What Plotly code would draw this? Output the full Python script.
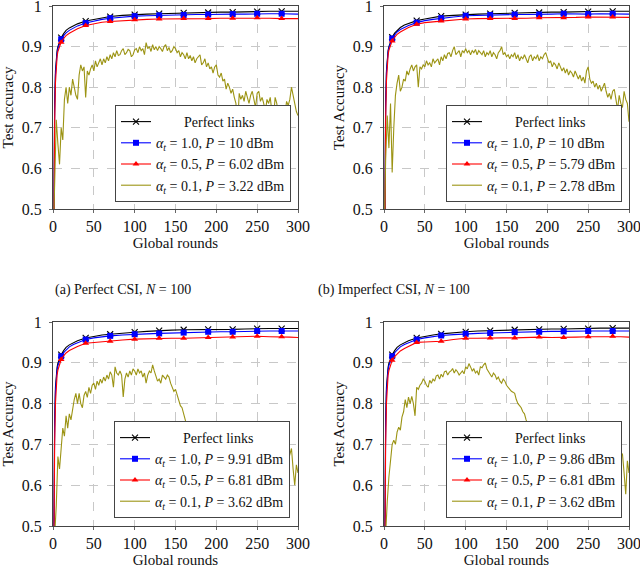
import plotly.graph_objects as go

# ---------------- data ----------------
ROUNDS_SMOOTH = [0, 1, 2, 3, 4, 5, 6, 8, 10, 13, 16, 20, 25, 30, 40, 50, 60, 70, 85, 100,
                 115, 130, 145, 160, 175, 190, 205, 220, 235, 250, 265, 280, 290, 300]
MARKER_ROUNDS = [10, 40, 70, 100, 130, 160, 190, 220, 250, 280]
ROUNDS_GOLD = list(range(0, 301, 2))

# Panel (a)
BLACK_A = [0.10, 0.55, 0.76, 0.84, 0.875, 0.89, 0.90, 0.913, 0.922, 0.932, 0.94, 0.946, 0.952, 0.956,
           0.963, 0.967, 0.971, 0.974, 0.977, 0.979, 0.98, 0.981, 0.982, 0.983, 0.984, 0.984, 0.985,
           0.985, 0.986, 0.986, 0.987, 0.987, 0.987, 0.987]
BLUE_A = [0.10, 0.52, 0.74, 0.83, 0.866, 0.883, 0.895, 0.908, 0.918, 0.927, 0.934, 0.94, 0.946, 0.951,
          0.958, 0.963, 0.967, 0.97, 0.973, 0.975, 0.976, 0.977, 0.978, 0.978, 0.979, 0.979, 0.98,
          0.98, 0.98, 0.981, 0.981, 0.981, 0.98, 0.98]
RED_A = [0.10, 0.48, 0.71, 0.81, 0.855, 0.875, 0.888, 0.902, 0.911, 0.92, 0.927, 0.933, 0.939, 0.944,
         0.952, 0.956, 0.96, 0.962, 0.964, 0.966, 0.967, 0.968, 0.968, 0.969, 0.968, 0.969, 0.97,
         0.97, 0.97, 0.971, 0.97, 0.969, 0.969, 0.969]
GOLD_A = [0.40, 0.60, 0.72, 0.66, 0.61, 0.70, 0.67, 0.77, 0.80, 0.76, 0.80, 0.78, 0.82, 0.80, 0.78,
          0.77, 0.83, 0.855, 0.84, 0.85, 0.775, 0.84, 0.83, 0.845, 0.855, 0.84, 0.865, 0.85, 0.86,
          0.87, 0.855, 0.87, 0.86, 0.875, 0.865, 0.88, 0.87, 0.885, 0.875, 0.89, 0.878, 0.88, 0.89,
          0.895, 0.88, 0.885, 0.893, 0.89, 0.875, 0.88, 0.892, 0.895, 0.885, 0.9, 0.89, 0.895, 0.88,
          0.91, 0.895, 0.9, 0.888, 0.905, 0.892, 0.9, 0.89, 0.9, 0.895, 0.888, 0.9, 0.905, 0.89,
          0.898, 0.885, 0.89, 0.9, 0.895, 0.885, 0.89, 0.875, 0.885, 0.88, 0.87, 0.885, 0.87, 0.878,
          0.865, 0.875, 0.86, 0.87, 0.875, 0.88, 0.855, 0.86, 0.87, 0.85, 0.86, 0.845, 0.85, 0.835,
          0.85, 0.855, 0.83, 0.825, 0.835, 0.815, 0.82, 0.795, 0.81, 0.8, 0.785, 0.795, 0.775, 0.76,
          0.70, 0.785, 0.77, 0.78, 0.765, 0.79, 0.775, 0.76, 0.78, 0.79, 0.77, 0.75, 0.785, 0.79,
          0.765, 0.775, 0.76, 0.74, 0.77, 0.76, 0.775, 0.74, 0.725, 0.775, 0.76, 0.73, 0.745, 0.715,
          0.70, 0.74, 0.765, 0.755, 0.77, 0.80, 0.775, 0.76, 0.74, 0.73]

# Panel (b)
BLACK_B = [0.10, 0.55, 0.76, 0.84, 0.875, 0.89, 0.90, 0.913, 0.923, 0.933, 0.94, 0.947, 0.953, 0.957,
           0.964, 0.968, 0.972, 0.975, 0.977, 0.979, 0.98, 0.981, 0.982, 0.983, 0.984, 0.984, 0.985,
           0.985, 0.986, 0.986, 0.987, 0.987, 0.987, 0.987]
BLUE_B = [0.10, 0.53, 0.75, 0.835, 0.87, 0.886, 0.897, 0.91, 0.92, 0.929, 0.936, 0.942, 0.948, 0.952,
          0.959, 0.964, 0.967, 0.97, 0.973, 0.976, 0.977, 0.978, 0.979, 0.979, 0.979, 0.979, 0.98,
          0.981, 0.98, 0.98, 0.981, 0.981, 0.98, 0.98]
RED_B = [0.10, 0.49, 0.72, 0.815, 0.858, 0.878, 0.891, 0.905, 0.914, 0.923, 0.93, 0.936, 0.942, 0.947,
         0.955, 0.959, 0.961, 0.963, 0.966, 0.968, 0.969, 0.969, 0.969, 0.969, 0.97, 0.971, 0.971,
         0.971, 0.972, 0.973, 0.973, 0.973, 0.972, 0.972]
GOLD_B = [0.40, 0.62, 0.73, 0.65, 0.76, 0.59, 0.70, 0.78, 0.81, 0.83, 0.79, 0.80, 0.82, 0.815, 0.84,
          0.83, 0.845, 0.855, 0.84, 0.85, 0.855, 0.80, 0.85, 0.845, 0.855, 0.85, 0.865, 0.855, 0.86,
          0.85, 0.87, 0.86, 0.865, 0.87, 0.855, 0.875, 0.865, 0.88, 0.87, 0.883, 0.885, 0.875, 0.89,
          0.9, 0.88, 0.885, 0.89, 0.875, 0.89, 0.885, 0.895, 0.885, 0.89, 0.88, 0.89, 0.885, 0.893,
          0.88, 0.89, 0.885, 0.88, 0.89, 0.875, 0.885, 0.88, 0.89, 0.875, 0.885, 0.88, 0.87, 0.885,
          0.89, 0.9, 0.88, 0.885, 0.875, 0.88, 0.87, 0.88, 0.875, 0.885, 0.87, 0.88, 0.865, 0.875,
          0.87, 0.88, 0.87, 0.86, 0.875, 0.88, 0.865, 0.875, 0.87, 0.88, 0.865, 0.875, 0.87, 0.88,
          0.885, 0.875, 0.86, 0.865, 0.85, 0.86, 0.855, 0.845, 0.86, 0.85, 0.84, 0.848, 0.835, 0.845,
          0.83, 0.84, 0.835, 0.825, 0.84, 0.83, 0.82, 0.83, 0.815, 0.825, 0.81, 0.84, 0.85, 0.82,
          0.81, 0.815, 0.8, 0.81, 0.795, 0.805, 0.79, 0.8, 0.81, 0.79, 0.775, 0.785, 0.77, 0.79,
          0.795, 0.77, 0.745, 0.78, 0.76, 0.75, 0.79, 0.77, 0.76, 0.715]

# Panel (c)
BLACK_C = [0.10, 0.55, 0.76, 0.84, 0.874, 0.889, 0.899, 0.912, 0.92, 0.93, 0.938, 0.944, 0.95, 0.954,
           0.961, 0.965, 0.968, 0.97, 0.973, 0.975, 0.977, 0.979, 0.98, 0.981, 0.981, 0.982, 0.982,
           0.982, 0.983, 0.984, 0.984, 0.984, 0.984, 0.984]
BLUE_C = [0.10, 0.52, 0.74, 0.83, 0.865, 0.882, 0.893, 0.906, 0.916, 0.925, 0.932, 0.939, 0.945, 0.949,
          0.957, 0.961, 0.964, 0.966, 0.968, 0.97, 0.971, 0.972, 0.973, 0.974, 0.975, 0.976, 0.976,
          0.976, 0.977, 0.978, 0.978, 0.978, 0.978, 0.978]
RED_C = [0.10, 0.47, 0.70, 0.80, 0.85, 0.87, 0.882, 0.898, 0.908, 0.917, 0.924, 0.93, 0.936, 0.94,
         0.948, 0.95, 0.952, 0.953, 0.956, 0.958, 0.959, 0.96, 0.96, 0.96, 0.961, 0.962, 0.962,
         0.963, 0.964, 0.965, 0.964, 0.964, 0.963, 0.962]
GOLD_C = [0.40, 0.48, 0.55, 0.67, 0.64, 0.69, 0.74, 0.72, 0.77, 0.74, 0.775, 0.76, 0.79, 0.81, 0.825,
          0.80, 0.825, 0.80, 0.79, 0.82, 0.83, 0.815, 0.84, 0.825, 0.845, 0.85, 0.835, 0.855, 0.845,
          0.86, 0.85, 0.865, 0.855, 0.87, 0.86, 0.878, 0.87, 0.84, 0.89, 0.875, 0.87, 0.88, 0.87,
          0.816, 0.86, 0.875, 0.865, 0.88, 0.87, 0.885, 0.88, 0.87, 0.885, 0.875, 0.88, 0.865, 0.875,
          0.85, 0.87, 0.88, 0.875, 0.895, 0.88, 0.865, 0.855, 0.86, 0.85, 0.87, 0.865, 0.86, 0.87,
          0.865, 0.85, 0.84, 0.83, 0.835, 0.82, 0.81, 0.795, 0.79, 0.775, 0.76, 0.745, 0.72, 0.735,
          0.69, 0.725, 0.71, 0.70, 0.74, 0.72, 0.69, 0.725, 0.70, 0.71, 0.68, 0.66, 0.67, 0.65,
          0.665, 0.67, 0.655, 0.68, 0.69, 0.70, 0.685, 0.70, 0.68, 0.69, 0.665, 0.68, 0.695, 0.71,
          0.69, 0.675, 0.695, 0.68, 0.70, 0.685, 0.71, 0.725, 0.69, 0.70, 0.68, 0.715, 0.71, 0.695,
          0.738, 0.70, 0.715, 0.72, 0.69, 0.71, 0.68, 0.70, 0.715, 0.695, 0.70, 0.68, 0.71, 0.713,
          0.69, 0.70, 0.68, 0.66, 0.675, 0.69, 0.64, 0.60, 0.65, 0.63]

# Panel (d)
BLACK_D = [0.10, 0.55, 0.76, 0.84, 0.874, 0.889, 0.899, 0.912, 0.92, 0.93, 0.938, 0.944, 0.95, 0.954,
           0.961, 0.965, 0.968, 0.971, 0.974, 0.976, 0.978, 0.979, 0.98, 0.981, 0.982, 0.982, 0.983,
           0.983, 0.984, 0.984, 0.985, 0.985, 0.985, 0.985]
BLUE_D = [0.10, 0.52, 0.74, 0.83, 0.865, 0.882, 0.893, 0.906, 0.916, 0.925, 0.932, 0.939, 0.945, 0.949,
          0.957, 0.961, 0.964, 0.967, 0.969, 0.971, 0.972, 0.973, 0.974, 0.975, 0.976, 0.976, 0.977,
          0.977, 0.978, 0.978, 0.978, 0.978, 0.978, 0.978]
RED_D = [0.10, 0.47, 0.70, 0.80, 0.85, 0.869, 0.881, 0.896, 0.906, 0.915, 0.922, 0.929, 0.935, 0.94,
         0.95, 0.951, 0.952, 0.953, 0.957, 0.96, 0.96, 0.961, 0.961, 0.961, 0.962, 0.963, 0.962,
         0.962, 0.963, 0.964, 0.964, 0.965, 0.964, 0.963]
GOLD_D = [0.40, 0.50, 0.56, 0.62, 0.66, 0.70, 0.71, 0.70, 0.73, 0.742, 0.735, 0.767, 0.78, 0.81, 0.79,
          0.816, 0.80, 0.818, 0.80, 0.77, 0.84, 0.835, 0.845, 0.85, 0.86, 0.855, 0.845, 0.84, 0.857,
          0.85, 0.86, 0.855, 0.868, 0.87, 0.86, 0.872, 0.865, 0.878, 0.88, 0.87, 0.877, 0.88, 0.886,
          0.875, 0.883, 0.878, 0.87, 0.874, 0.88, 0.873, 0.89, 0.885, 0.898, 0.89, 0.88, 0.885, 0.875,
          0.88, 0.87, 0.89, 0.888, 0.895, 0.9, 0.885, 0.878, 0.87, 0.865, 0.875, 0.87, 0.86, 0.865,
          0.855, 0.85, 0.86, 0.855, 0.845, 0.84, 0.835, 0.83, 0.828, 0.825, 0.81, 0.80, 0.795, 0.79,
          0.78, 0.775, 0.76, 0.75, 0.745, 0.734, 0.725, 0.717, 0.705, 0.70, 0.685, 0.69, 0.675, 0.68,
          0.67, 0.685, 0.69, 0.675, 0.70, 0.69, 0.68, 0.695, 0.68, 0.69, 0.67, 0.695, 0.70, 0.713,
          0.69, 0.68, 0.695, 0.685, 0.70, 0.69, 0.70, 0.705, 0.685, 0.695, 0.68, 0.70, 0.703, 0.69,
          0.685, 0.695, 0.70, 0.715, 0.69, 0.70, 0.685, 0.705, 0.716, 0.69, 0.71, 0.69, 0.70, 0.685,
          0.695, 0.71, 0.69, 0.67, 0.68, 0.676, 0.63, 0.578, 0.66, 0.63]

LEGEND_LABELS = {
    "a": ["        Perfect links", "<i>α<sub>t</sub></i> = 1.0, <i>P</i> = 10 dBm",
          "<i>α<sub>t</sub></i> = 0.5, <i>P</i> = 6.02 dBm", "<i>α<sub>t</sub></i> = 0.1, <i>P</i> = 3.22 dBm"],
    "b": ["        Perfect links", "<i>α<sub>t</sub></i> = 1.0, <i>P</i> = 10 dBm",
          "<i>α<sub>t</sub></i> = 0.5, <i>P</i> = 5.79 dBm", "<i>α<sub>t</sub></i> = 0.1, <i>P</i> = 2.78 dBm"],
    "c": ["        Perfect links", "<i>α<sub>t</sub></i> = 1.0, <i>P</i> = 9.91 dBm",
          "<i>α<sub>t</sub></i> = 0.5, <i>P</i> = 6.81 dBm", "<i>α<sub>t</sub></i> = 0.1, <i>P</i> = 3.62 dBm"],
    "d": ["        Perfect links", "<i>α<sub>t</sub></i> = 1.0, <i>P</i> = 9.86 dBm",
          "<i>α<sub>t</sub></i> = 0.5, <i>P</i> = 6.81 dBm", "<i>α<sub>t</sub></i> = 0.1, <i>P</i> = 3.62 dBm"],
}
Y_TITLES = {"a": "Test accuracy", "b": "Test Accuracy", "c": "Test Accuracy", "d": "Test Accuracy"}
CAPTIONS = {"a": "(a) Perfect CSI, <i>N</i> = 100", "b": "(b) Imperfect CSI, <i>N</i> = 100"}
X_TICKS = [0, 50, 100, 150, 200, 250, 300]
Y_TICKS = [0.5, 0.6, 0.7, 0.8, 0.9, 1.0]
Y_TICKTEXT = ["0.5", "0.6", "0.7", "0.8", "0.9", "1"]

# ---------------- figure ----------------
W, H = 640, 568
FONT = "Liberation Serif"
BLACK, BLUE, RED, GOLD = "#000000", "#0000ff", "#ff0000", "#9c9414"

panels = {
    "a": dict(x=(53, 298), y=(6, 209), leg=(291, 202), data=(BLACK_A, BLUE_A, RED_A, GOLD_A)),
    "b": dict(x=(384, 629), y=(6, 209), leg=(622, 202), data=(BLACK_B, BLUE_B, RED_B, GOLD_B)),
    "c": dict(x=(53, 298), y=(322, 526), leg=(290, 518), data=(BLACK_C, BLUE_C, RED_C, GOLD_C)),
    "d": dict(x=(384, 629), y=(322, 526), leg=(622, 518), data=(BLACK_D, BLUE_D, RED_D, GOLD_D)),
}

marker_idx = [i for i, r in enumerate(ROUNDS_SMOOTH) if r in MARKER_ROUNDS]

fig = go.Figure()
layout = dict(width=W, height=H, margin=dict(l=0, r=0, t=0, b=0, autoexpand=False),
              paper_bgcolor="white", plot_bgcolor="white",
              font=dict(family=FONT, size=14, color="#111"), annotations=[])

styles = [
    (BLACK, "x-thin", 6),
    (BLUE, "square", 6),
    (RED, "triangle-up", 6),
]

for k, (key, p) in enumerate(panels.items()):
    n = "" if k == 0 else str(k + 1)
    xa, ya = "x" + n, "y" + n
    leg = "legend" + n
    black, blue, red, gold = p["data"]
    labels = LEGEND_LABELS[key]
    for (col, sym, ms), yv, lab in zip(styles, (black, blue, red), labels[:3]):
        mk = dict(symbol=sym, size=ms, color=col)
        if sym == "x-thin":
            mk["line"] = dict(color=col, width=1.1)
        fig.add_trace(go.Scatter(
            x=ROUNDS_SMOOTH, y=yv, mode="lines+markers", name=lab,
            line=dict(color=col, width=1.1), marker=mk,
            selectedpoints=marker_idx,
            selected=dict(marker=dict(opacity=1)),
            unselected=dict(marker=dict(opacity=0)),
            xaxis=xa, yaxis=ya, legend=leg))
    fig.add_trace(go.Scatter(
        x=ROUNDS_GOLD, y=gold, mode="lines", name=labels[3],
        line=dict(color=GOLD, width=1.1), xaxis=xa, yaxis=ya, legend=leg))

    x0, x1 = p["x"]
    y0, y1 = p["y"]
    axcommon = dict(showline=True, mirror=True, linecolor="#444", linewidth=1,
                    showgrid=True, gridcolor="#c8c8c8", griddash="dash", gridwidth=1,
                    zeroline=False, ticks="outside", ticklen=3, tickcolor="#666",
                    automargin=False, ticklabeloverflow="allow",
                    tickfont=dict(size=16, family=FONT, color="#111"))
    layout["xaxis" + n] = dict(axcommon, domain=[x0 / W, x1 / W], range=[0, 300],
                               tickvals=X_TICKS, anchor=ya,
                               title=dict(text="Global rounds", standoff=3,
                                          font=dict(size=15, family=FONT)))
    layout["yaxis" + n] = dict(axcommon, domain=[1 - y1 / H, 1 - y0 / H], range=[0.5, 1],
                               tickvals=Y_TICKS, ticktext=Y_TICKTEXT, anchor=xa,
                               ticklabelstandoff=4,
                               title=dict(text=Y_TITLES[key], standoff=4,
                                          font=dict(size=15, family=FONT)))
    lx, ly = p["leg"]
    layout[leg] = dict(x=lx / W, y=1 - ly / H, xanchor="right", yanchor="bottom",
                       bgcolor="white", bordercolor="#444", borderwidth=1,
                       font=dict(size=14, family=FONT, color="#111"),
                       tracegroupgap=0, itemwidth=30, traceorder="normal")

for key, cx in (("a", 123), ("b", 394)):
    layout["annotations"].append(dict(
        text=CAPTIONS[key], x=cx / W, y=1 - 290 / H, xref="paper", yref="paper",
        showarrow=False, xanchor="center", yanchor="middle",
        font=dict(size=14, family=FONT, color="#111")))

fig.update_layout(**layout)
fig.write_html("out.html", config={"displayModeBar": False},
               post_script="document.body.style.margin='0';document.body.style.padding='0';")
